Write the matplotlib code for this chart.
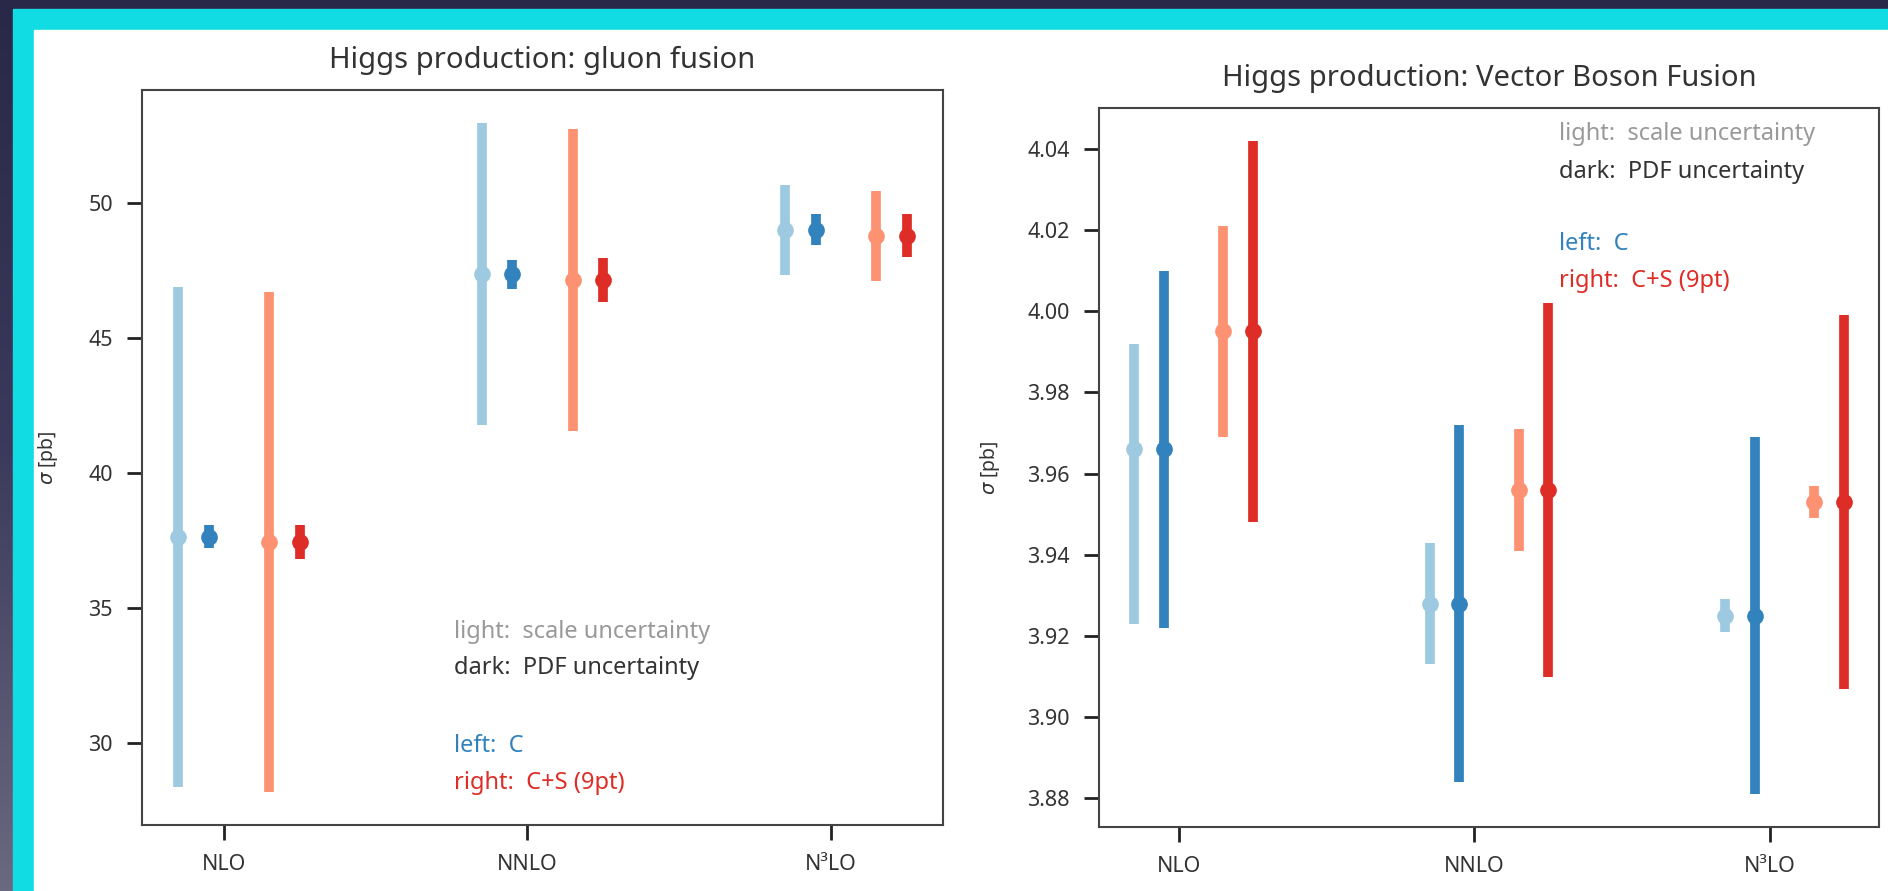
import matplotlib
matplotlib.use("Agg")
import matplotlib.pyplot as plt
from matplotlib.patches import Rectangle
import numpy as np

orders = ["NLO", "NNLO", "N³LO"]

# gluon fusion, sigma [pb]
ggf_c = [37.63, 47.37, 49.03]
ggf_c_scale_dn = [9.27, 5.60, 1.67]
ggf_c_scale_up = [9.27, 5.60, 1.67]
ggf_c_pdf = [0.43, 0.55, 0.58]
ggf_cs = [37.44, 47.15, 48.81]
ggf_cs_scale_dn = [9.26, 5.60, 1.67]
ggf_cs_scale_up = [9.26, 5.60, 1.67]
ggf_cs_pdf = [0.64, 0.82, 0.81]

# vector boson fusion, sigma [pb]
vbf_c = [3.966, 3.928, 3.925]
vbf_c_scale_dn = [0.043, 0.015, 0.004]
vbf_c_scale_up = [0.026, 0.015, 0.004]
vbf_c_pdf = [0.044, 0.044, 0.044]
vbf_cs = [3.995, 3.956, 3.953]
vbf_cs_scale_dn = [0.026, 0.015, 0.004]
vbf_cs_scale_up = [0.026, 0.015, 0.004]
vbf_cs_pdf = [0.047, 0.046, 0.046]

light_blue, dark_blue = "#9ecae1", "#3182bd"
light_red, dark_red = "#fc9272", "#de2d26"

plt.rcParams["font.family"] = ["Noto Sans", "DejaVu Sans"]

W, H = 1888, 891
fig = plt.figure(figsize=(W / 100, H / 100), dpi=100)

# slide background: dark gradient, cyan frame, white panel
bg = fig.add_axes([0, 0, 1, 1], zorder=-10)
grad = np.linspace(0, 1, 256)[:, None]
bg.imshow(grad, aspect="auto", extent=[0, 1, 0, 1],
          cmap=matplotlib.colors.LinearSegmentedColormap.from_list(
              "bgc", ["#2a2848", "#3c3a5c", "#6b697f"]))
bg.add_patch(Rectangle((13 / W, 0), 1, 1 - 9 / H, color="#12dce3"))
bg.add_patch(Rectangle((34 / W, 0), 1, 1 - 30 / H, color="white"))
bg.set_xlim(0, 1)
bg.set_ylim(0, 1)
bg.axis("off")


def panel(ax, c, c_dn, c_up, c_pdf, cs, cs_dn, cs_up, cs_pdf):
    x = np.arange(len(orders))
    kw = dict(fmt="o", ms=11, elinewidth=7, capsize=0)
    ax.errorbar(x - 0.15, c, yerr=[c_dn, c_up], color=light_blue, **kw)
    ax.errorbar(x - 0.05, c, yerr=c_pdf, color=dark_blue, **kw)
    ax.errorbar(x + 0.15, cs, yerr=[cs_dn, cs_up], color=light_red, **kw)
    ax.errorbar(x + 0.25, cs, yerr=cs_pdf, color=dark_red, **kw)
    ax.set_xticks(x)
    ax.set_xticklabels(orders)
    ax.tick_params(direction="out", length=11, width=2, pad=10,
                   labelsize=15.5, colors="#222222", labelcolor="#333333")
    for s in ax.spines.values():
        s.set_linewidth(1.5)
        s.set_color("#444444")
    ax.set_ylabel(r"$\sigma$ [pb]", fontsize=14, color="#333333")


def notes(ax, x0, ys):
    txt = ["light:  scale uncertainty", "dark:  PDF uncertainty",
           "left:  C", "right:  C+S (9pt)"]
    cols = ["#999999", "#333333", dark_blue, dark_red]
    for t, y, col in zip(txt, ys, cols):
        ax.text(x0, y, t, color=col, fontsize=17, va="center",
                transform=ax.transAxes)


ax1 = fig.add_axes([142 / W, 1 - 825 / H, 801 / W, 735 / H])
panel(ax1, ggf_c, ggf_c_scale_dn, ggf_c_scale_up, ggf_c_pdf,
      ggf_cs, ggf_cs_scale_dn, ggf_cs_scale_up, ggf_cs_pdf)
ax1.set_yticks([30, 35, 40, 45, 50])
ax1.set_title("Higgs production: gluon fusion", fontsize=21,
              color="#333333", pad=16)
ax1.yaxis.set_label_coords(-0.102, 0.5)
notes(ax1, 0.39, [0.263, 0.214, 0.107, 0.057])

ax2 = fig.add_axes([1099 / W, 1 - 827 / H, 780 / W, 719 / H])
panel(ax2, vbf_c, vbf_c_scale_dn, vbf_c_scale_up, vbf_c_pdf,
      vbf_cs, vbf_cs_scale_dn, vbf_cs_scale_up, vbf_cs_pdf)
ax2.set_yticks(np.arange(3.88, 4.041, 0.02))
ax2.yaxis.set_major_formatter(matplotlib.ticker.FormatStrFormatter("%.2f"))
ax2.set_title("Higgs production: Vector Boson Fusion", fontsize=21,
              color="#333333", pad=16)
ax2.yaxis.set_label_coords(-0.124, 0.5)
notes(ax2, 0.59, [0.964, 0.911, 0.811, 0.759])

fig.savefig("out.png", dpi=100)
